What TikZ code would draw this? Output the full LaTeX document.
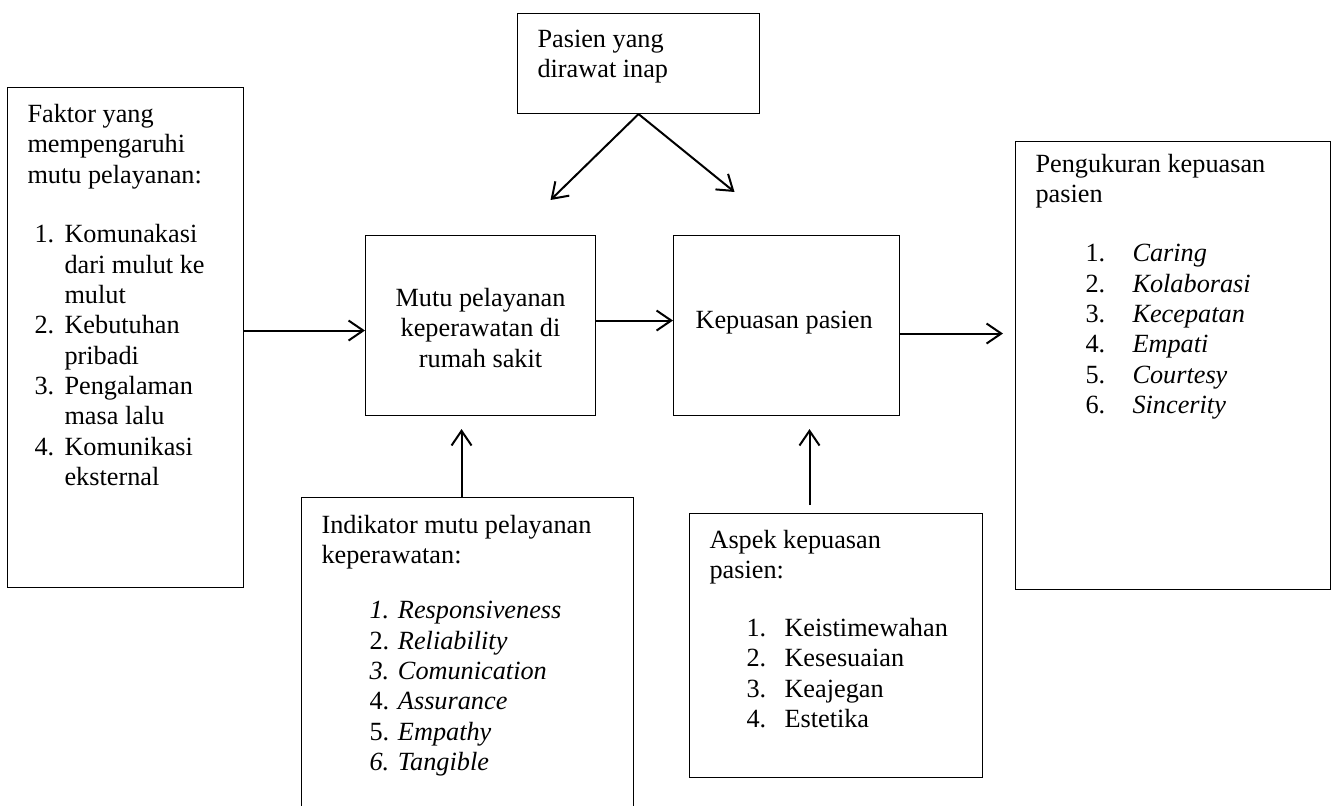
\documentclass[tikz,border=0pt]{standalone}
\usepackage{fontspec}
\setmainfont{Liberation Serif}
\usetikzlibrary{arrows.meta}

% box text: width, height, first baseline, lines
\newcommand{\isi}[4]{\parbox[c][#2][t]{#1}{\rule{0pt}{#3}#4}}
\newcommand{\butir}[3]{\hspace*{#1}\makebox[#2][l]{#3}}

\begin{document}
\begin{tikzpicture}[x=0.75pt, y=-0.75pt,
    kotak/.style={draw, line width=0.8pt, anchor=north west, inner xsep=15pt, inner ysep=0pt,
      font=\fontsize{19.7}{22.75}\selectfont},
    panah/.style={-{Straight Barb[length=11pt,width=15pt]}, line width=1.5pt}]
    \path[use as bounding box, clip] (0,0) rectangle (1336,806);

    % Boxes
    \node[kotak] (faktor) at (7,87) {\isi{147pt}{375pt}{26.25pt}{Faktor yang\\mempengaruhi\\mutu pelayanan:\\[22pt]
        \butir{5.25pt}{22.5pt}{1.}Komunakasi\\
        \hspace*{27.75pt}dari mulut ke\\
        \hspace*{27.75pt}mulut\\
        \butir{5.25pt}{22.5pt}{2.}Kebutuhan\\
        \hspace*{27.75pt}pribadi\\
        \butir{5.25pt}{22.5pt}{3.}Pengalaman\\
        \hspace*{27.75pt}masa lalu\\
        \butir{5.25pt}{22.5pt}{4.}Komunikasi\\
        \hspace*{27.75pt}eksternal}};
    \node[kotak] (pasien) at (517,13) {\isi{151.5pt}{75pt}{25.5pt}{Pasien yang\\dirawat inap}};
    \node[kotak] (mutu) at (365,235) {\isi{142.5pt}{135pt}{53.25pt}{\centering Mutu pelayanan\\keperawatan di\\rumah sakit}};
    \node[kotak] (kepuasan) at (673,235) {\isi{139.5pt}{135pt}{69.75pt}{\hspace*{1.5pt}Kepuasan pasien}};
    \node[kotak] (ukur) at (1015,141) {\isi{206.25pt}{336pt}{23.25pt}{Pengukuran kepuasan\\pasien\\[21.5pt]
        \butir{37.5pt}{35.25pt}{1.}\textit{Caring}\\
        \butir{37.5pt}{35.25pt}{2.}\textit{Kolaborasi}\\
        \butir{37.5pt}{35.25pt}{3.}\textit{Kecepatan}\\
        \butir{37.5pt}{35.25pt}{4.}\textit{Empati}\\
        \butir{37.5pt}{35.25pt}{5.}\textit{Courtesy}\\
        \butir{37.5pt}{35.25pt}{6.}\textit{Sincerity}}};
    \node[kotak] (indikator) at (301,497) {\isi{219pt}{250pt}{27pt}{Indikator mutu pelayanan\\keperawatan:\\[18.5pt]
        \hspace*{36pt}\textit{1. Responsiveness}\\
        \hspace*{36pt}2. \textit{Reliability}\\
        \hspace*{36pt}\textit{3. Comunication}\\
        \hspace*{36pt}4. \textit{Assurance}\\
        \hspace*{36pt}5. \textit{Empathy}\\
        \hspace*{36pt}\textit{6. Tangible}}};
    \node[kotak] (aspek) at (689,513) {\isi{189.75pt}{198pt}{26.25pt}{Aspek kepuasan\\pasien:\\[20.5pt]
        \butir{27.75pt}{28.5pt}{1.}Keistimewahan\\
        \butir{27.75pt}{28.5pt}{2.}Kesesuaian\\
        \butir{27.75pt}{28.5pt}{3.}Keajegan\\
        \butir{27.75pt}{28.5pt}{4.}Estetika}};

    % Arrow ends above the middle boxes
    \coordinate (ujungA) at ([xshift=52.5pt, yshift=26.25pt]mutu.north);
    \coordinate (ujungB) at ([xshift=-39pt, yshift=32.25pt]kepuasan.north);

    % Arrows
    \draw[panah] ([yshift=-3.75pt]faktor.east |- mutu.west) -- ([yshift=-3.75pt]mutu.west);
    \draw[panah] ([yshift=3.75pt]mutu.east) -- ([yshift=3.75pt]kepuasan.west);
    \draw[panah, shorten >=9pt] ([yshift=-6pt]kepuasan.east) -- ([yshift=-6pt]kepuasan.east -| ukur.west);
    \draw[panah] (pasien.south) -- (ujungA);
    \draw[panah] (pasien.south) -- (ujungB);
    \draw[panah, shorten >=9.75pt] ([xshift=-4.5pt]indikator.north) -- ([xshift=-4.5pt]indikator.north |- mutu.south);
    \draw[panah, shorten <=6pt, shorten >=9.75pt] ([xshift=-19.9pt]aspek.north) -- ([xshift=-19.9pt]aspek.north |- kepuasan.south);
\end{tikzpicture}
\end{document}
